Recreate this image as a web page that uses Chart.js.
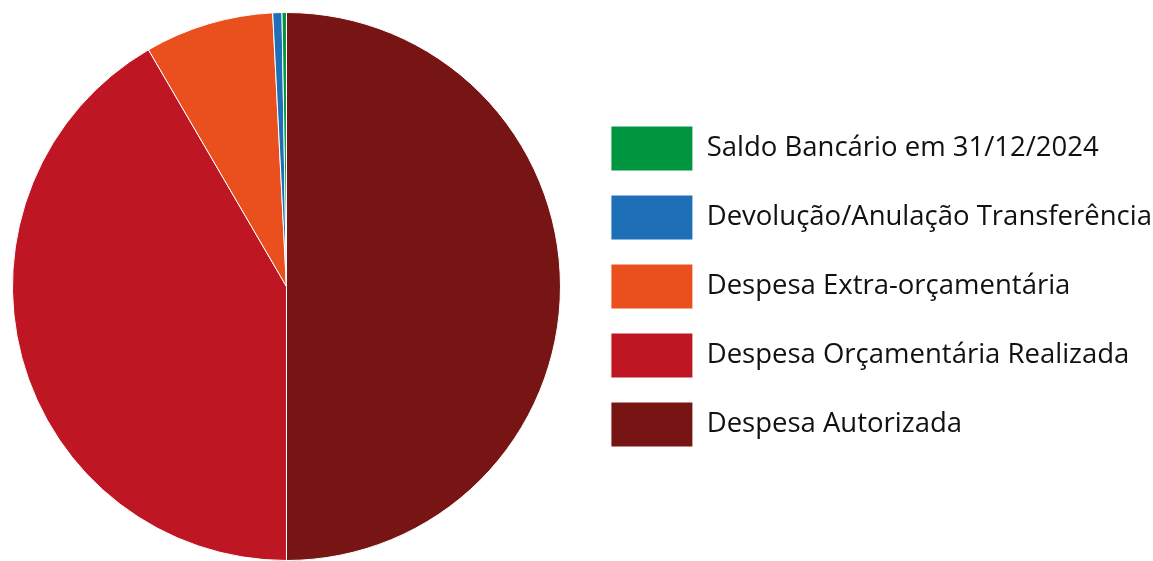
<!DOCTYPE html>
<html>
<head>
<meta charset="utf-8">
<script src="https://cdn.jsdelivr.net/npm/chart.js@4.4.1/dist/chart.umd.min.js"></script>
<style>
  html, body { margin: 0; padding: 0; background: #fff; overflow: hidden; }
  #wrap { width: 1153px; height: 561px; overflow: hidden; position: relative; }
  #inner { width: 1176px; height: 561px; margin-left: -14px; position: relative; }
</style>
</head>
<body>
<div id="wrap"><div id="inner"><canvas id="pieChart"></canvas></div></div>
<script>
// slices, clockwise from 12 o'clock
const categories = [
    'Despesa Autorizada',
    'Despesa Orçamentária Realizada',
    'Despesa Extra-orçamentária',
    'Devolução/Anulação Transferência',
    'Saldo Bancário em 31/12/2024'
];
const values = [50.0, 41.6, 7.6, 0.54, 0.26];
const colors = ['#771414', '#BE1622', '#E9501E', '#1D70B7', '#009640'];

const ctx = document.getElementById('pieChart').getContext('2d');
new Chart(ctx, {
    type: 'pie',
    data: {
        labels: categories,
        datasets: [{
            data: values,
            backgroundColor: colors,
            borderColor: '#ffffff',
            borderWidth: 1
        }]
    },
    options: {
        responsive: true,
        maintainAspectRatio: false,
        animation: false,
        layout: { padding: { left: 0, top: 12, bottom: 0, right: 0 } },
        plugins: {
            tooltip: { enabled: false },
            legend: {
                position: 'right',
                reverse: true,  // legend lists the slices bottom-up
                labels: {
                    boxWidth: 82,
                    boxHeight: 45,
                    padding: 24,
                    color: '#111',
                    font: { family: 'Open Sans', size: 27.5 }
                }
            }
        }
    }
});
</script>
</body>
</html>
